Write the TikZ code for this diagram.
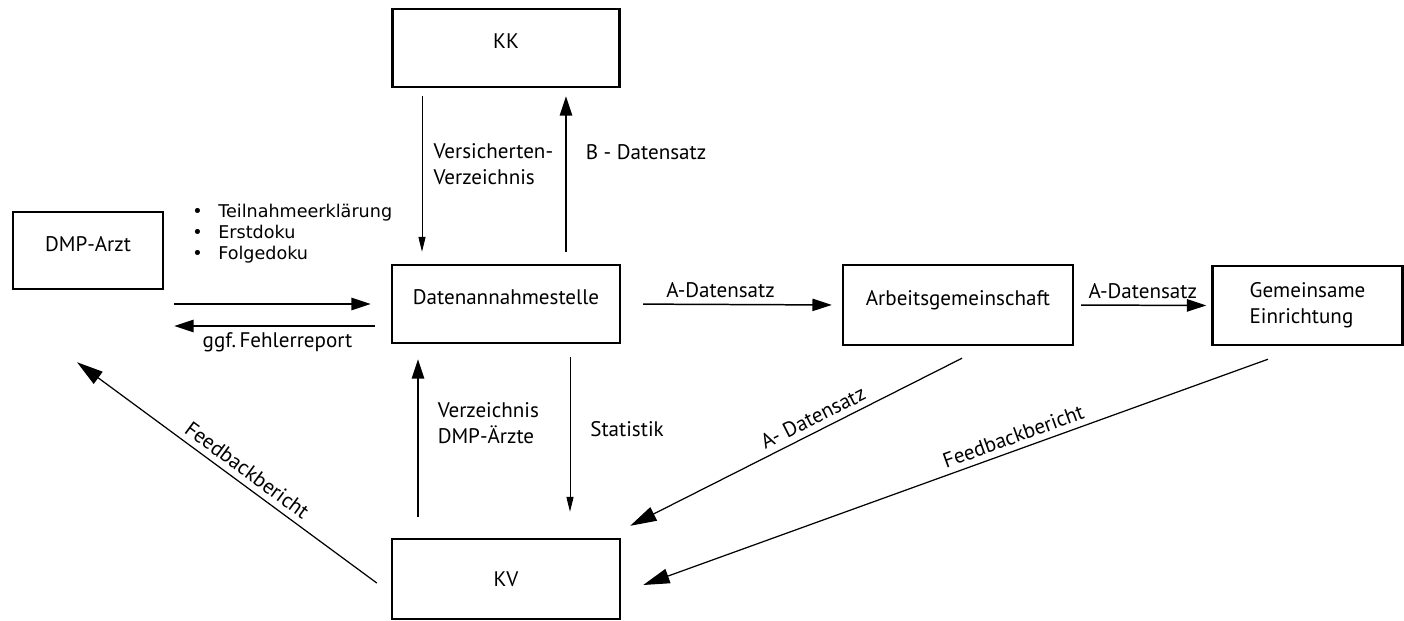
\documentclass[tikz,border=0pt]{standalone}
\usepackage{fontspec}
\setmainfont{PT Sans}
\newfontfamily\listfont{DejaVu Sans}
\usetikzlibrary{arrows.meta,calc}

\begin{document}
\begin{tikzpicture}[x=0.02cm,y=-0.02cm,
    every node/.style={font=\fontsize{12}{14.8}\selectfont},
    box/.style={draw,line width=1.4pt,inner sep=0pt},
    raised/.style={text height=6pt,text depth=5pt},
    arrbig/.style={line width=0.85pt,-{Triangle[length=11pt,width=7pt]}},
    arrsmall/.style={line width=0.55pt,-{Triangle[length=8.5pt,width=4pt]}},
    arrdiag/.style={line width=0.7pt,-{Triangle[length=15pt,width=8.5pt]}}]
            \useasboundingbox (0,0) rectangle (1404,620);

            \node[box,raised,minimum width=3cm,minimum height=1.54cm] (arzt) at (88,250.5) {DMP-Arzt};
            \node[box,raised,minimum width=4.54cm,minimum height=1.56cm] (kk) at (506,48) {KK};
            \node[box,raised,minimum width=4.56cm,minimum height=1.56cm] (dst) at (506,304) {Datenannahmestelle};
            \node[box,raised,minimum width=4.6cm,minimum height=1.6cm] (ag) at (958,305) {Arbeitsgemeinschaft};
            \node[box,minimum width=3.8cm,minimum height=1.58cm,align=left] (ge) at (1307.5,305.5) {Gemeinsame\\Einrichtung};
            \node[box,minimum width=4.56cm,minimum height=1.6cm] (kv) at (506,579) {KV};

            \node[anchor=west,inner sep=0pt,align=left,font=\listfont\fontsize{10}{12}\selectfont] (docs) at (192,234)
                {\textbullet\hspace{8.9pt}Teilnahmeerklärung\\\textbullet\hspace{8.9pt}Erstdoku\\\textbullet\hspace{8.9pt}Folgedoku};

            % Arzt <-> Datenannahmestelle
            \draw[arrbig,shorten <=0.2cm,shorten >=0.4cm] (arzt.east |- dst.west) -- (dst.west);
            \draw[arrbig,shorten <=0.32cm,shorten >=0.2cm] ($(dst.west)+(0,22)$) -- ($(arzt.east |- dst.west)+(0,22)$)
                node[midway,below] {ggf.\,Fehlerreport};

            % KK <-> Datenannahmestelle
            \draw[arrsmall,shorten <=0.16cm,shorten >=0.24cm] ($(kk.south)+(-84,0)$) -- ($(dst.north)+(-84,0)$)
                node[pos=0.435,right=3pt,align=left] {Versicherten-\\Verzeichnis};
            \draw[arrbig,shorten <=0.24cm,shorten >=0.16cm] ($(dst.north)+(60,0)$) -- ($(kk.south)+(60,0)$)
                node[pos=0.635,right=7.5pt] {B - Datensatz};

            % KV <-> Datenannahmestelle
            \draw[arrbig,shorten <=0.42cm,shorten >=0.3cm] ($(kv.north)+(-88,0)$) -- ($(dst.south)+(-88,0)$)
                node[pos=0.59,right=7.5pt,align=left] {Verzeichnis\\DMP-Ärzte};
            \draw[arrsmall,shorten <=0.26cm,shorten >=0.52cm] ($(dst.south)+(64,0)$) -- ($(kv.north)+(64,0)$)
                node[pos=0.44,right=8pt] {Statistik};

            % A-Datensatz nach rechts
            \draw[arrbig,shorten <=0.44cm,shorten >=0.2cm] (dst.east) -- (ag.west) node[pos=0.45,above] {A-Datensatz};
            \draw[arrbig,shorten <=0.14cm,shorten >=0.1cm] (ag.east) -- (ge.west) node[midway,above] {A-Datensatz};

            % zurueck zur KV und zum Arzt
            \draw[arrdiag] ($(ag.south)+(4,12)$) -- ($(kv.north east)+(9,-12)$) node[pos=0.43,sloped,above] {A- Datensatz};
            \draw[arrdiag] ($(ge.south)+(-39.5,13)$) -- ($(kv.east)+(22,6)$) node[pos=0.4,sloped,above] {Feedbackbericht};
            \draw[arrdiag] ($(kv.west)+(-14,4)$) -- ($(arzt.south)+(-11,72)$) node[pos=0.46,sloped,above] {Feedbackbericht};
          \end{tikzpicture}
\end{document}
